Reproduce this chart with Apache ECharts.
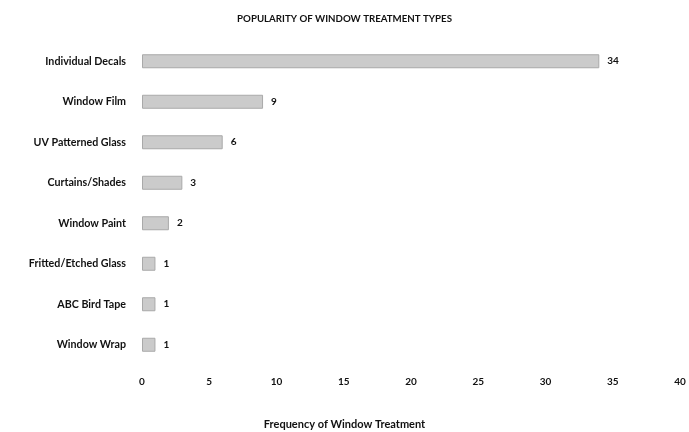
<!DOCTYPE html>
<html>
<head>
<meta charset="utf-8">
<script src="https://cdn.jsdelivr.net/npm/echarts@6/dist/echarts.min.js"></script>
<style>
  html, body { margin: 0; padding: 0; background: #fff; }
  #main { width: 689px; height: 432px; }
</style>
</head>
<body>
<div id="main"></div>
<script>
var categories = ['Individual Decals', 'Window Film', 'UV Patterned Glass', 'Curtains/Shades',
    'Window Paint', 'Fritted/Etched Glass', 'ABC Bird Tape', 'Window Wrap'];
var counts = [34, 9, 6, 3, 2, 1, 1, 1];
var xTicks = [0, 5, 10, 15, 20, 25, 30, 35, 40];

var fontName = 'Lato';
var myChart = echarts.init(document.getElementById('main'));

option = {
    backgroundColor: '#fff',
    animation: false,
    textStyle: { fontFamily: fontName },
    title: [
        {
            text: 'POPULARITY OF WINDOW TREATMENT TYPES',
            left: 'center',
            top: 9,
            textStyle: { fontSize: 9.7, fontWeight: 'bold', color: '#111' }
        },
        {
            text: 'Frequency of Window Treatment',
            left: 'center',
            top: 414,
            textStyle: { fontSize: 11, fontWeight: 'bold', color: '#111' }
        }
    ],
    grid: {
        left: 142,
        right: 9,
        top: 41,
        bottom: 67
    },
    xAxis: {
        type: 'value',
        min: xTicks[0],
        max: xTicks[xTicks.length - 1],
        interval: 5,
        axisLine: { show: false },
        axisTick: { show: false },
        splitLine: { show: false },
        axisLabel: {
            margin: 12,
            fontSize: 10,
            fontWeight: 'bold',
            color: '#111'
        }
    },
    yAxis: {
        type: 'category',
        inverse: true,
        data: categories,
        axisLine: { show: false },
        axisTick: { show: false },
        axisLabel: {
            margin: 16,
            fontSize: 10.7,
            fontWeight: 'bold',
            color: '#111'
        }
    },
    series: [
        {
            type: 'bar',
            data: counts,
            barWidth: 14,
            itemStyle: {
                color: '#cbcbcb',
                borderColor: '#a9a9a9',
                borderWidth: 1
            },
            label: {
                show: true,
                position: 'right',
                distance: 8,
                fontSize: 10,
                fontWeight: 'bold',
                color: '#111'
            }
        }
    ]
};

myChart.setOption(option);
</script>
</body>
</html>
